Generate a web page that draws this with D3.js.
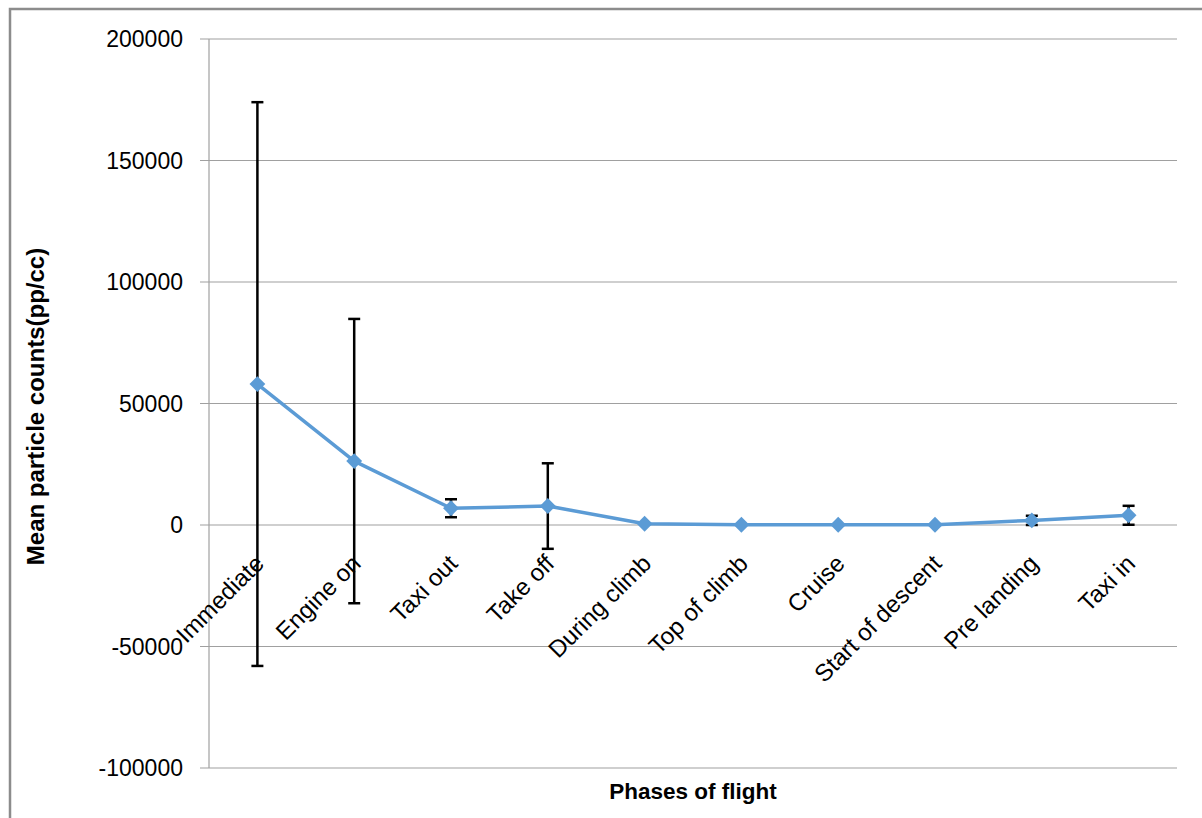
<!DOCTYPE html>
<html><head><meta charset="utf-8">
<script src="https://cdn.jsdelivr.net/npm/d3@7"></script>
<style>body{margin:0;background:#fff}svg{display:block}</style>
</head><body>
<svg id="c" width="1202" height="818"></svg>
<script>
const categories = ["Immediate","Engine on","Taxi out","Take off","During climb","Top of climb","Cruise","Start of descent","Pre landing","Taxi in"];
const means = [58000, 26300, 6900, 7800, 500, 100, 100, 100, 1900, 4000];
const errors = [116000, 58500, 3700, 17600, 0, 0, 0, 0, 1900, 3900];
const yTicks = [-100000, -50000, 0, 50000, 100000, 150000, 200000];

const svg = d3.select("#c");
const L = 209, R = 1177, T = 39, B = 768;
const font = "Liberation Sans, Arial, sans-serif";

// outer frame
svg.append("rect").attr("x",10).attr("y",9).attr("width",1200).attr("height",820)
  .attr("fill","none").attr("stroke","#8c8c8c").attr("stroke-width",2.5);

const x = d3.scaleBand().domain(categories).range([L, R]).padding(0);
const y = d3.scaleLinear().domain([-100000, 200000]).range([B, T]);

// gridlines
svg.append("g").selectAll("line").data(yTicks).join("line")
  .attr("x1", L - 9).attr("x2", R).attr("y1", d => y(d)).attr("y2", d => y(d))
  .attr("stroke", "#a0a0a0").attr("stroke-width", 1.2);
// y axis line
svg.append("line").attr("x1",L).attr("x2",L).attr("y1",T).attr("y2",B)
  .attr("stroke","#a0a0a0").attr("stroke-width",1.2);

// y tick labels
svg.append("g").selectAll("text").data(yTicks).join("text")
  .attr("x", L - 26).attr("y", d => y(d)).attr("dy","0.36em")
  .attr("text-anchor","end").attr("font-family",font).attr("font-size",23)
  .attr("fill","#000").text(d => d);

// category labels
svg.append("g").selectAll("text").data(categories).join("text")
  .attr("transform", d => `translate(${x(d)+x.bandwidth()/2+8},${y(0)+40}) rotate(-45)`)
  .attr("text-anchor","end").attr("font-family",font).attr("font-size",24)
  .attr("fill","#000").text(d => d);

// error bars
const eb = svg.append("g").attr("stroke","#000").attr("stroke-width",2.5);
categories.forEach((c,i) => {
  if (errors[i] <= 0) return;
  const cx = x(c) + x.bandwidth()/2;
  const y1 = y(means[i] + errors[i]), y2 = y(means[i] - errors[i]);
  eb.append("line").attr("x1",cx).attr("x2",cx).attr("y1",y1).attr("y2",y2);
  eb.append("line").attr("x1",cx-6).attr("x2",cx+6).attr("y1",y1).attr("y2",y1);
  eb.append("line").attr("x1",cx-6).attr("x2",cx+6).attr("y1",y2).attr("y2",y2);
});

// line
const pts = categories.map((c,i) => [x(c)+x.bandwidth()/2, y(means[i])]);
svg.append("path").attr("d", d3.line()(pts)).attr("fill","none")
  .attr("stroke","#5b9bd5").attr("stroke-width",3.5).attr("stroke-linejoin","round");
svg.append("g").selectAll("path").data(pts).join("path")
  .attr("transform", d => `translate(${d[0]},${d[1]})`)
  .attr("d", d3.symbol(d3.symbolDiamond2, 160)())
  .attr("fill","#5b9bd5");

// axis titles
svg.append("text").attr("transform",`translate(44,${(T+B)/2+3}) rotate(-90)`)
  .attr("text-anchor","middle").attr("font-family",font).attr("font-size",24)
  .attr("font-weight","bold").text("Mean particle counts(pp/cc)");
svg.append("text").attr("x",(L+R)/2).attr("y",799)
  .attr("text-anchor","middle").attr("font-family",font).attr("font-size",22.5)
  .attr("font-weight","bold").text("Phases of flight");
</script>
</body></html>
